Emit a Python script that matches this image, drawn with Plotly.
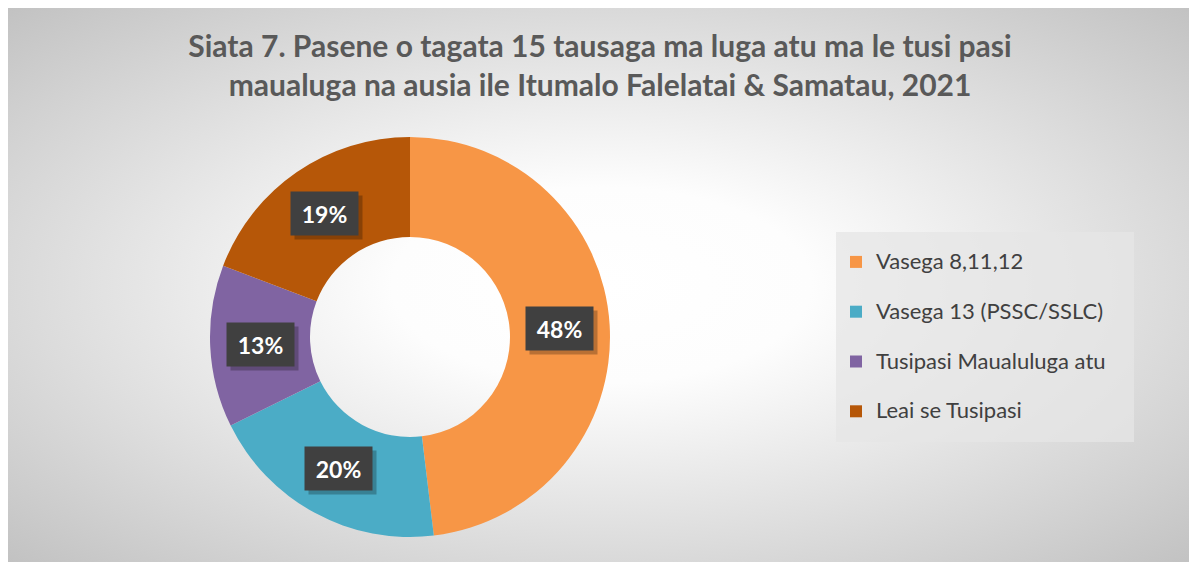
import base64
import math

import plotly.graph_objects as go

#data
categories = ["Vasega 8,11,12", "Vasega 13 (PSSC/SSLC)", "Tusipasi Maualuluga atu", "Leai se Tusipasi"]
shares = [48.1, 19.6, 13.1, 19.2]
colors = ["#F79646", "#4BACC6", "#8064A2", "#B65708"]

title = ("Siata 7. Pasene o tagata 15 tausaga ma luga atu ma le tusi pasi<br>"
         "maualuga na ausia ile Itumalo Falelatai & Samatau, 2021")

#%%

#the page body has an 8px margin, so the figure is a bit smaller than the window
OFF = 8
W, H = 1197 - OFF, 562 - OFF

def px_x(X):
    return (X - OFF) / W

def px_y(Y):
    return 1 - (Y - OFF) / H

#pie placement (window pixels)
cx_px, cy_px, r_px = 410, 337, 200
cx = px_x(cx_px)
cy = px_y(cy_px)

#background: radial gradient like the excel chart area
svg = f"""<svg xmlns="http://www.w3.org/2000/svg" width="{W}" height="{H}">
<defs><radialGradient id="g" cx="0.5" cy="0.5" r="0.707">
<stop offset="0" stop-color="#ffffff"/>
<stop offset="0.25" stop-color="#fdfdfd"/>
<stop offset="1" stop-color="#c2c2c2"/>
</radialGradient></defs>
<rect x="0" y="0" width="{W - 2}" height="{H}" fill="url(#g)"/>
</svg>"""
bg_src = "data:image/svg+xml;base64," + base64.b64encode(svg.encode()).decode()

#legend font is big (row height), the visible text is smaller and lifted back up
legend_labels = [f"<span style='font-size:22px;baseline-shift:7px'>{c}</span>"
                 "<span style='font-size:22px'>\u00a0\u00a0\u00a0\u00a0</span>" for c in categories]

fig = go.Figure()

fig.add_trace(go.Pie(
    labels=legend_labels,
    values=shares,
    hole=0.5,
    sort=False,
    direction="clockwise",
    rotation=0,
    marker=dict(colors=colors, line=dict(width=0)),
    textinfo="none",
    hoverinfo="label+percent",
    domain=dict(x=[cx - r_px / W, cx + r_px / W], y=[cy - r_px / H, cy + r_px / H]),
))

#%%

#data labels in dark boxes, placed at the middle of the ring
total = sum(shares)
annotations = []
labels = []
cum = 0
for v in shares:
    mid = (cum + v / 2) / total * 2 * math.pi
    cum += v
    x = cx + 0.75 * r_px * math.sin(mid) / W
    y = cy + 0.75 * r_px * math.cos(mid) / H
    txt = f"{round(v / total * 100)}%"
    #shadow box behind the label
    annotations.append(dict(x=x, y=y, xref="paper", yref="paper", text="\u00a0", showarrow=False,
                            xanchor="center", yanchor="middle",
                            width=67, height=43, borderpad=0, xshift=4, yshift=-4,
                            bgcolor="rgba(0,0,0,0.25)",
                            font=dict(family="Lato", size=23, color="rgba(0,0,0,0)")))
    labels.append(dict(x=x, y=y, xref="paper", yref="paper", text=txt, showarrow=False,
                       xanchor="center", yanchor="middle",
                       width=67, height=43, borderpad=0, bgcolor="#404040",
                       font=dict(family="Lato", size=23, color="white", weight="bold")))

fig.update_layout(
    width=W,
    height=H,
    margin=dict(l=0, r=0, t=0, b=0),
    paper_bgcolor="white",
    title=dict(text=title, x=px_x(600), xanchor="center", y=px_y(57), yanchor="top",
               font=dict(family="Lato", size=30, color="#595959", weight="bold")),
    legend=dict(x=px_x(836), y=px_y(232), xanchor="left", yanchor="top",
                bgcolor="rgba(230,230,230,0.75)",
                font=dict(family="Lato", size=36, color="#404040")),
    annotations=annotations + labels,
    images=[dict(source=bg_src, xref="paper", yref="paper", x=0, y=1, sizex=1, sizey=1,
                 sizing="stretch", layer="below", xanchor="left", yanchor="top")],
)

fig.write_html("out.html")
